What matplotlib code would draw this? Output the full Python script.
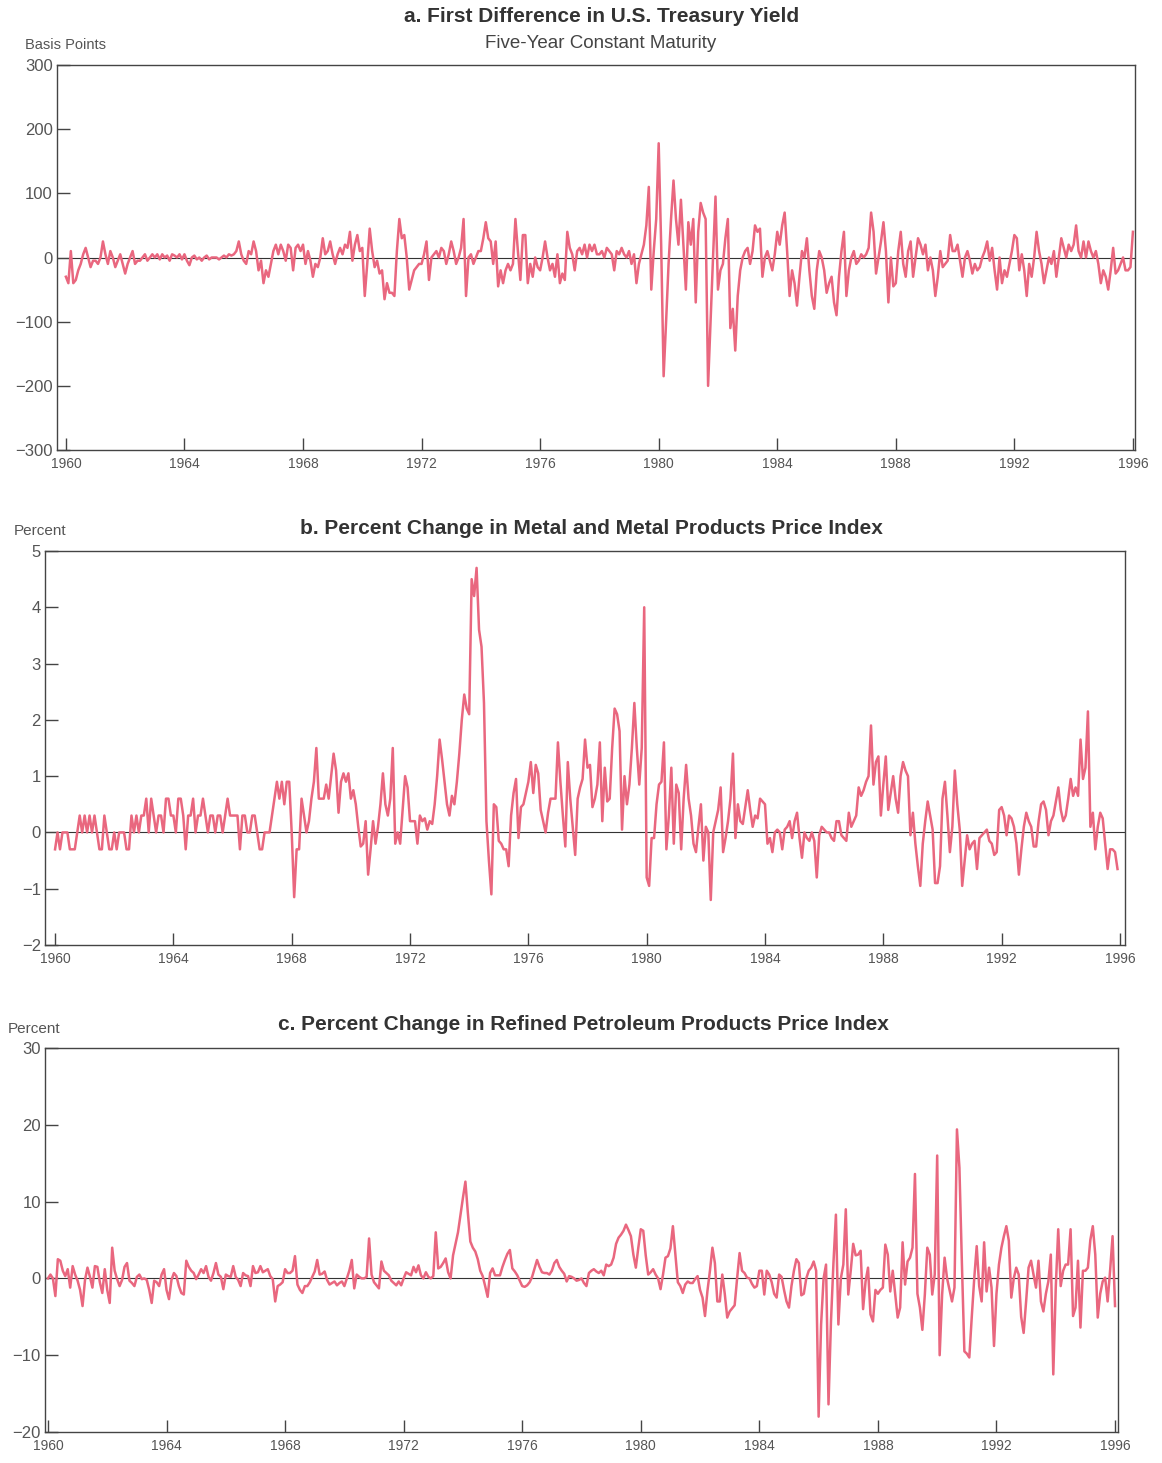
"""Three stacked monthly series, 1960-1996: Treasury yield changes,
metal price changes and refined petroleum price changes."""
import matplotlib
matplotlib.use("Agg")
import matplotlib.pyplot as plt
import numpy as np

plt.rcParams["font.family"] = ["Liberation Sans", "DejaVu Sans"]

START_YEAR = 1960

# a. first difference, 5-yr constant maturity yield (basis points), monthly
yield_diff = [
    -30, -40, 10, -40, -35, -20, -10, 5, 15, 0, -15, -5,        # 1960
    -5, -10, 0, 25, 5, -10, 10, 0, -15, -5, 5, -10,             # 1961
    -25, -10, 0, 10, -10, -5, -5, 0, 5, -5, 0, 5,               # 1962
    0, 5, -3, 5, 0, 3, -5, 5, 3, 0, 5, -3,                      # 1963
    5, -5, -12, 0, 3, -3, 0, -5, 0, 3, -3, 0,                   # 1964
    0, 0, -3, 0, 3, 0, 5, 3, 5, 10, 25, 5,                      # 1965
    -5, -10, 10, 5, 25, 10, -20, -5, -40, -20, -30, -10,        # 1966
    10, 20, 5, 20, 10, -5, 20, 15, -20, 15, 20, 10,             # 1967
    20, -10, 10, -5, -30, -10, -15, 0, 30, 5, 10, 25,           # 1968
    5, -10, 5, 15, 5, 20, 15, 40, -5, 20, 35, 10,               # 1969
    15, -60, -10, 45, 10, -15, -5, -25, -20, -65, -40, -55,     # 1970
    -55, -60, 10, 60, 30, 35, 0, -50, -35, -20, -15, -10,       # 1971
    -10, 5, 25, -35, 0, 5, 10, 0, 15, 10, -10, 5,               # 1972
    25, 10, -10, 0, 15, 60, -60, 0, 5, -10, 0, 10,              # 1973
    10, 30, 55, 30, 25, -10, 25, -45, -20, -40, -20, -10,       # 1974
    -20, -10, 60, 10, -35, 35, 35, -40, -10, -30, 0, -15,       # 1975
    -20, 0, 25, 0, -20, -10, -30, 5, -40, -25, -35, 40,         # 1976
    15, 5, -20, 10, 15, 5, 20, 0, 20, 10, 20, 5,                # 1977
    5, 10, 0, 15, 10, 5, -20, 10, 5, 15, 5, 0,                  # 1978
    10, -10, 5, -40, -10, 5, 20, 50, 110, -50, 10, 60,          # 1979
    178, 20, -185, -100, -10, 60, 120, 60, 20, 90, 20, -50,     # 1980
    55, 20, 60, -70, 40, 85, 70, 60, -200, -100, 0, 95,         # 1981
    -50, -20, -10, 30, 60, -110, -80, -145, -60, -20, 0, 10,    # 1982
    15, -10, 10, 50, 40, 45, -30, 0, 10, -5, -20, 5,            # 1983
    40, 20, 50, 70, 10, -60, -20, -40, -75, -30, 10, 0,         # 1984
    30, -20, -60, -80, -20, 10, 0, -20, -55, -40, -30, -70,     # 1985
    -90, -30, 10, 40, -60, -20, 0, 10, -10, -5, 5, 0,           # 1986
    5, 15, 70, 40, -25, 0, 25, 55, 10, -70, 0, -45,             # 1987
    -40, 10, 40, -10, -30, 10, 25, -30, 0, 30, 20, 5,           # 1988
    20, -20, 0, -20, -60, -30, 10, -15, -10, -5, 35, 10,        # 1989
    10, 20, -5, -30, 0, 10, -5, -25, -10, -20, -15, 0,          # 1990
    10, 25, -5, 15, -20, -50, 0, -40, -20, -30, -10, 10,        # 1991
    35, 30, -20, 5, -20, -60, -10, -30, 0, 40, 10, -10,         # 1992
    -40, -20, 0, -10, 10, -30, 0, 30, 15, 0, 20, 10,            # 1993
    20, 50, 10, 0, 25, 0, 25, 10, 0, 10, -10, -40,              # 1994
    -20, -30, -50, -20, 15, -25, -20, -10, 0, -20, -20, -15,    # 1995
    40,                                                         # 1996
]

# b. percent change, metal and metal products price index, monthly
metal_pct = [
    -0.3, 0, -0.3, 0, 0, 0, -0.3, -0.3, -0.3, 0, 0.3, 0,                     # 1960
    0.3, 0, 0.3, 0, 0.3, 0, -0.3, -0.3, 0.3, 0, -0.3, -0.3,                  # 1961
    0, -0.3, 0, 0, 0, -0.3, -0.3, 0.3, 0, 0.3, 0, 0.3,                       # 1962
    0.3, 0.6, 0, 0.6, 0.3, 0, 0.3, 0.3, 0, 0.6, 0.6, 0.3,                    # 1963
    0.3, 0, 0.6, 0.6, 0.3, -0.3, 0.3, 0.3, 0.6, 0, 0.3, 0.3,                 # 1964
    0.6, 0.3, 0, 0.3, 0.3, 0, 0.3, 0.3, 0, 0.3, 0.6, 0.3,                    # 1965
    0.3, 0.3, 0.3, -0.3, 0.3, 0.3, 0, 0, 0.3, 0.3, 0, -0.3,                  # 1966
    -0.3, 0, 0, 0, 0.3, 0.6, 0.9, 0.6, 0.9, 0.5, 0.9, 0.9,                   # 1967
    0, -1.15, -0.3, -0.3, 0.6, 0.3, 0, 0.2, 0.6, 0.9, 1.5, 0.6,              # 1968
    0.6, 0.6, 0.85, 0.6, 1.0, 1.4, 1.1, 0.35, 0.9, 1.05, 0.9, 1.05,          # 1969
    0.6, 0.75, 0.5, 0.1, -0.25, -0.2, 0.2, -0.75, -0.3, 0.2, -0.2, 0.1,      # 1970
    0.5, 1.05, 0.5, 0.3, 0.6, 1.5, -0.2, 0, -0.2, 0.4, 1.0, 0.8,             # 1971
    0.2, 0.2, 0.2, -0.2, 0.3, 0.2, 0.25, 0.05, 0.2, 0.15, 0.5, 1.0,          # 1972
    1.65, 1.3, 0.9, 0.5, 0.3, 0.65, 0.5, 0.9, 1.4, 2.0, 2.45, 2.2,           # 1973
    2.1, 4.5, 4.2, 4.7, 3.6, 3.3, 2.3, 0.2, -0.5, -1.1, 0.5, 0.45,           # 1974
    -0.15, -0.2, -0.3, -0.3, -0.6, 0.3, 0.7, 0.95, -0.1, 0.45, 0.5, 0.7,     # 1975
    0.9, 1.25, 0.7, 1.2, 1.05, 0.4, 0.2, 0, 0.35, 0.6, 0.6, 0.6,             # 1976
    1.6, 0.9, 0.3, -0.25, 1.25, 0.6, 0.1, -0.4, 0.6, 0.8, 0.95, 1.65,        # 1977
    1.15, 1.2, 0.45, 0.6, 0.85, 1.6, 0.2, 1.15, 0.55, 0.6, 1.5, 2.2,         # 1978
    2.1, 1.8, 0.05, 1.0, 0.5, 0.85, 1.5, 2.3, 1.5, 0.85, 1.5, 4.0,           # 1979
    -0.8, -0.95, -0.1, -0.1, 0.5, 0.85, 0.9, 1.6, -0.3, 0.3, 1.15, -0.2,     # 1980
    0.85, 0.7, -0.3, 0.6, 1.2, 0.6, 0.3, -0.2, -0.35, 0.1, 0.5, -0.5,        # 1981
    0.1, 0, -1.2, 0, 0.2, 0.4, 0.8, -0.35, -0.1, 0.2, 0.6, 1.4,              # 1982
    -0.1, 0.5, 0.2, 0.15, 0.45, 0.75, 0.4, 0.1, 0.3, 0.25, 0.6, 0.55,        # 1983
    0.5, -0.2, -0.1, -0.35, 0, 0.05, 0, -0.3, 0.05, 0.1, 0.2, -0.1,          # 1984
    0.2, 0.35, -0.1, -0.45, 0, -0.1, -0.15, 0, -0.15, -0.8, -0.05, 0.1,      # 1985
    0.05, 0, 0, -0.1, -0.15, 0.2, 0.2, -0.05, -0.1, -0.15, 0.35, 0.1,        # 1986
    0.2, 0.3, 0.8, 0.65, 0.75, 0.9, 1.0, 1.9, 0.85, 1.25, 1.35, 0.3,         # 1987
    0.85, 1.35, 0.4, 0.7, 1.0, 0.6, 0.35, 1.0, 1.25, 1.1, 1.0, -0.05,        # 1988
    0.35, -0.2, -0.6, -0.95, -0.2, 0.2, 0.55, 0.3, 0.05, -0.9, -0.9, -0.6,   # 1989
    0.6, 0.9, 0.3, -0.35, 0.1, 1.1, 0.5, 0.05, -0.95, -0.5, -0.05, -0.3,     # 1990
    -0.2, -0.15, -0.65, -0.1, -0.05, 0, 0.05, -0.15, -0.2, -0.4, -0.35, 0.4, # 1991
    0.45, 0.3, -0.05, 0.3, 0.25, 0.1, -0.2, -0.75, -0.3, 0.1, 0.35, 0.2,     # 1992
    0.1, -0.25, -0.25, 0.2, 0.5, 0.55, 0.4, -0.05, 0.2, 0.3, 0.55, 0.8,      # 1993
    0.4, 0.2, 0.3, 0.6, 0.95, 0.65, 0.8, 0.65, 1.65, 0.95, 1.15, 2.15,       # 1994
    0.1, 0.35, -0.3, 0.1, 0.35, 0.25, -0.2, -0.65, -0.3, -0.3, -0.35, -0.65, # 1995
]

# c. percent change, refined petroleum products price index, monthly
petrol_pct = [
    0, 0.5, 0, -2.3, 2.5, 2.3, 1.0, 0.3, 1.2, -1.2, 1.6, 0.5,               # 1960
    -0.3, -1.5, -3.6, -0.2, 1.4, 0.2, -1.2, 1.6, 1.5, -0.5, -1.9, 1.2,      # 1961
    -1.5, -3.2, 4.0, 1.0, -0.1, -1.0, -0.2, 1.5, 2.0, -0.3, -0.6, -1.0,     # 1962
    0.2, 0.5, -0.1, 0, -0.2, -1.5, -3.2, -0.3, -0.5, -1.0, 0.5, 1.2,        # 1963
    -1.5, -2.7, -0.2, 0.7, 0.3, -1.0, -1.9, -2.1, 2.3, 1.5, 1.0, 0.7,       # 1964
    -0.1, 0.5, 1.2, 0.7, 1.6, 0.2, -0.3, 0.7, 2.0, 0.5, 0.2, -1.4,          # 1965
    0.5, 0.3, 0.2, 1.6, 0.2, -0.2, -1.0, 0.7, 0.4, 0.3, -1.0, 1.6,          # 1966
    0.7, 0.8, 1.6, 0.8, 1.0, 1.2, 0.3, -0.1, -3.0, -1.0, -0.8, -0.5,        # 1967
    1.2, 0.7, 0.7, 1.0, 2.9, -0.8, -1.5, -1.9, -1.0, -1.0, -0.5, 0.2,       # 1968
    0.9, 2.4, 0.5, 0.6, 0.9, -0.2, -0.8, -0.6, -0.4, -0.9, -0.6, -0.4,      # 1969
    -1.0, 0, 1.0, 2.4, -1.3, 0.5, 0.2, 0, 0, 0.2, 5.2, 0.5,                 # 1970
    -0.5, -0.9, -1.3, 2.2, 1.0, 0.7, 0.4, -0.3, -0.6, -0.9, -0.4, -0.9,     # 1971
    0, 0.8, 0.6, 0.4, 1.5, 0.8, 1.7, 0.4, 0, 0.8, 0.2, 0,                   # 1972
    0.3, 6.0, 1.3, 1.5, 2.0, 2.6, 0.8, 0, 3.0, 4.5, 6.0, 8.3,               # 1973
    10.5, 12.6, 8.5, 4.8, 4.0, 3.5, 2.5, 1.0, 0.3, -1.0, -2.4, 0.7,         # 1974
    1.3, 0.4, 0.4, 0.4, 1.5, 2.4, 3.2, 3.7, 1.3, 0.9, 0.4, -0.3,            # 1975
    -1.0, -1.1, -0.9, -0.5, 0.2, 1.3, 2.4, 1.5, 0.8, 0.7, 0.7, 0.5,         # 1976
    1.0, 2.0, 2.4, 1.5, 1.0, 0.6, -0.4, 0.3, 0.2, 0, -0.3, -0.2,            # 1977
    0, -0.6, -1.0, 0.7, 1.0, 1.2, 0.9, 0.7, 1.0, 0.4, 1.8, 1.6,             # 1978
    1.8, 2.7, 4.5, 5.3, 5.7, 6.2, 7.0, 6.3, 5.5, 3.1, 1.4, 4.0,             # 1979
    6.4, 6.2, 3.0, 0.5, 0.8, 1.2, 0.5, 0, -1.4, 0.5, 2.7, 2.9,              # 1980
    3.9, 6.8, 3.1, -0.5, -1.0, -1.9, -0.8, -0.4, -0.6, -0.6, -0.1, 0.3,     # 1981
    -1.5, -2.5, -4.9, -1.6, 1.0, 4.0, 2.0, -3.0, -3.0, 0.5, -2.0, -5.1,     # 1982
    -4.3, -3.9, -3.5, 0, 3.3, 1.0, 0.7, 0.1, 0, -0.7, -1.2, -1.0,           # 1983
    1.0, 1.0, -2.1, 1.0, 0.5, -0.5, -2.0, -2.5, 0.5, 0.2, -1.5, -3.0,       # 1984
    -3.8, -1.0, 1.0, 2.5, 2.0, -2.2, -2.0, 0, 1.0, 1.4, 2.2, 1.0,           # 1985
    -18, -6, 0, 1.8, -16.4, -5.6, 2, 8.3, -6, 0, 1.8, 9.0,                  # 1986
    -2.1, 1.0, 4.5, 3.0, 3.1, 3.6, -4.0, -0.4, 1.4, -4.7, -5.6, -1.5,       # 1987
    -2.0, -1.5, -1.2, 4.4, 3.1, -1.7, 1.0, -2.0, -5.1, -3.8, 4.7, -0.8,     # 1988
    2.2, 2.7, 4.0, 13.6, -2.0, -3.8, -6.7, -2.1, 4.0, 3.1, -2.1, 0.5,       # 1989
    16, -10, -2.1, 2.7, 0, -1.5, -3.0, -1.2, 19.4, 14.4, 2, -9.5,           # 1990
    -9.8, -10.3, -5, 0, 4.2, -1.0, -3.0, 4.7, -1.7, 1.4, -1.2, -8.8,        # 1991
    -2, 1.8, 4.0, 5.5, 6.8, 4.9, -2.5, 0, 1.4, 0.5, -5, -7.1,               # 1992
    -3, 1.4, 2.3, 0.5, -1.2, 2.3, -3.0, -4.3, -2, -0.4, 3.1, -12.5,         # 1993
    -1.2, 6.4, -1.0, 1.0, 1.8, 1.8, 6.4, -4.9, -3.8, 2.3, -6.4, 1.0,        # 1994
    1.0, 1.4, 5.0, 6.8, 3.1, -5.1, -2, -0.4, 0.1, -3.0, 1.0, 5.5,           # 1995
    -3.6,                                                                   # 1996
]

year_ticks = list(range(1960, 1997, 4))
LINE = "#e9677f"
INK = "#444444"
W, H = 1162, 1463


def months(values):
    return START_YEAR + np.arange(len(values)) / 12.0


def px_rect(left, top, right, bottom):
    return [left / W, 1 - bottom / H, (right - left) / W, (bottom - top) / H]


def panel(fig, rect, values, xlim, ylim, yticks):
    ax = fig.add_axes(rect)
    ax.axhline(0, color="#333333", lw=0.8, zorder=1)
    ax.plot(months(values), values, color=LINE, lw=1.8, zorder=2,
            solid_joinstyle="round")
    ax.set_xlim(*xlim)
    ax.set_ylim(*ylim)
    ax.set_xticks(year_ticks)
    ax.set_yticks(yticks)
    ax.tick_params(axis="x", direction="in", length=9, width=1, colors=INK,
                   labelsize=10, labelcolor="#555555", pad=5)
    ax.tick_params(axis="y", direction="in", length=9, width=1, colors=INK,
                   labelsize=12, labelcolor="#555555", pad=3)
    for spine in ax.spines.values():
        spine.set_color(INK)
        spine.set_linewidth(1)
    return ax


fig = plt.figure(figsize=(W / 100, H / 100), dpi=100, facecolor="white")

panel(fig, px_rect(57, 65, 1135, 450), yield_diff,
      (1959.70, 1996.07), (-300, 300), range(-300, 301, 100))
fig.text(602 / W, 1 - 16 / H, "a. First Difference in U.S. Treasury Yield",
         ha="center", va="center", fontsize=15, fontweight="bold", color="#333333")
fig.text(601 / W, 1 - 43 / H, "Five-Year Constant Maturity",
         ha="center", va="center", fontsize=13.5, color="#444444")
fig.text(25 / W, 1 - 45 / H, "Basis Points", ha="left", va="center",
         fontsize=10.5, color="#555555")

panel(fig, px_rect(45, 551, 1125, 945), metal_pct,
      (1959.66, 1996.17), (-2, 5), range(-2, 6, 1))
fig.text(591 / W, 1 - 528 / H,
         "b. Percent Change in Metal and Metal Products Price Index",
         ha="center", va="center", fontsize=15, fontweight="bold", color="#333333")
fig.text(14 / W, 1 - 531 / H, "Percent", ha="left", va="center",
         fontsize=11, color="#555555")

panel(fig, px_rect(45, 1048, 1118, 1432), petrol_pct,
      (1959.90, 1996.10), (-20, 30), range(-20, 31, 10))
fig.text(583 / W, 1 - 1024 / H,
         "c. Percent Change in Refined Petroleum Products Price Index",
         ha="center", va="center", fontsize=15, fontweight="bold", color="#333333")
fig.text(8 / W, 1 - 1029 / H, "Percent", ha="left", va="center",
         fontsize=11, color="#555555")

fig.savefig("out.png", dpi=100, facecolor="white")
